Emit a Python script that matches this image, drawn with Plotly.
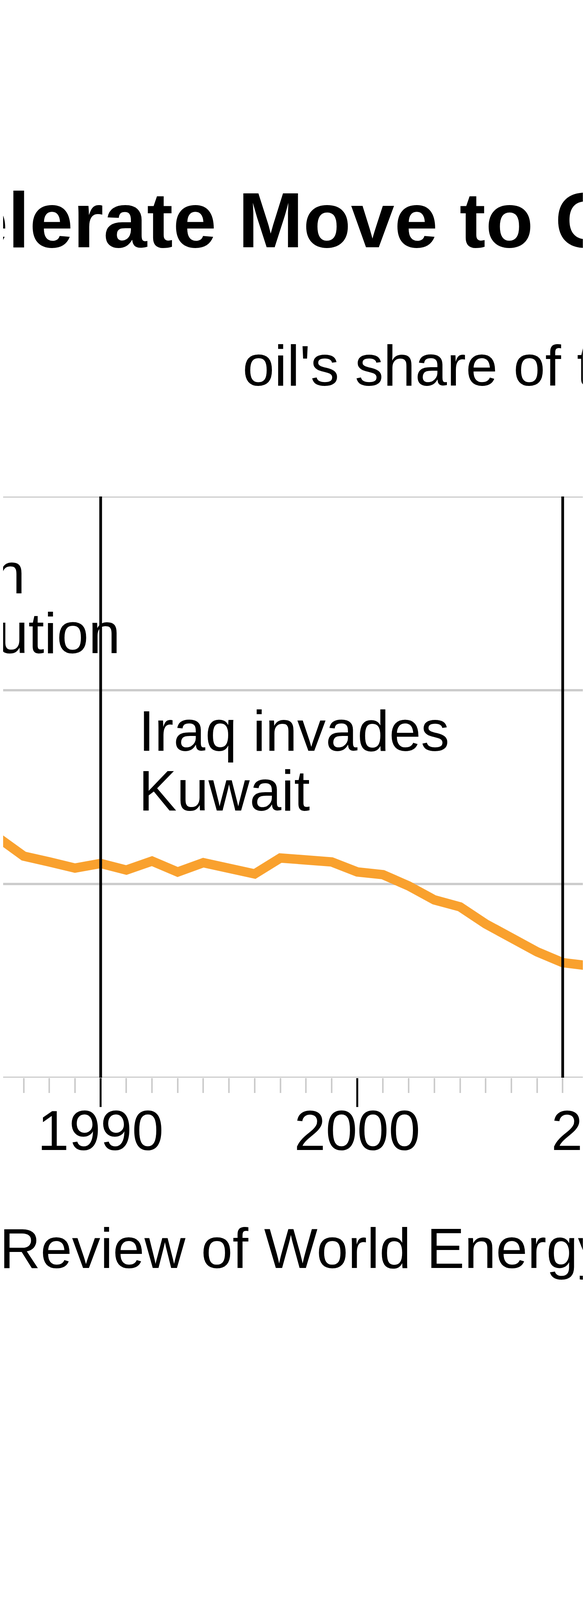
import plotly.graph_objects as go

years = list(range(1986, 2010))
oil_share = [36.2, 35.72, 35.57, 35.41, 35.53, 35.36, 35.59, 35.31, 35.55, 35.43, 35.26, 35.67,
             35.62, 35.57, 35.31, 35.24, 34.95, 34.59, 34.41, 33.97, 33.61, 33.25, 32.97, 32.89]
event_years = [1990, 2008]
major_ticks = [1990, 2000]
tick_labels = ["1990", "2000"]
grid_values = [30, 35, 40, 45]

W, H = 1500, 4204
TOP, BOT = 1263, 2751
FONT = "Liberation Sans, Arial, Helvetica, sans-serif"

def py(p):  # pixel row -> paper y
    return (BOT - p) / (BOT - TOP)

def px(p):
    return p / W

fig = go.Figure()
for g in grid_values:
    fig.add_shape(type="line", xref="paper", x0=0, x1=1, yref="y", y0=g, y1=g,
                  line=dict(color="#cccccc", width=6), layer="below")

fig.add_trace(go.Scatter(x=years, y=oil_share, mode="lines",
                         line=dict(color="#F9A12E", width=24), hoverinfo="skip"))

for yr in event_years:
    fig.add_shape(type="line", x0=yr, x1=yr, xref="x", yref="paper", y0=1, y1=0,
                  line=dict(color="black", width=7))

ann = []
def text(t, x, y, size, bold=False, xref="paper", anchor="left"):
    ann.append(dict(text=f"<b>{t}</b>" if bold else t, x=x, y=y, xref=xref, yref="paper",
                    xanchor=anchor, yanchor="bottom", showarrow=False,
                    font=dict(family=FONT, size=size, color="black"), borderpad=0))

def base(b, s, adj):
    return py(b + 0.21 * s - adj)

text("elerate Move to Green", px(-100), base(650, 200, 24), 200, bold=True)
text("oil's share of total energy", px(612), base(1007, 146, 27), 146)
text("Iranian", px(-391), base(1557, 146, 45), 146)
text("Revolution", px(-391), base(1710, 146, 45), 146)
text("Iraq invades", 1991.46, base(1960, 146, 45), 146, xref="x")
text("Kuwait", 1991.46, base(2113, 146, 45), 146, xref="x")
for v, lab in zip(major_ticks, tick_labels):
    text(lab, v, base(2983, 145, 45), 145, xref="x", anchor="center")
text("2010", px(1564), base(2983, 145, 45), 145, anchor="center")
text("Review of World Energy", px(-10), base(3337, 145, 97), 145)

fig.update_layout(
    width=W, height=H, margin=dict(l=0, r=0, t=TOP, b=H - BOT),
    plot_bgcolor="white", paper_bgcolor="white", showlegend=False,
    annotations=ann,
    xaxis=dict(range=[1986.2, 2009.03], tickmode="array", tickvals=major_ticks, showticklabels=False,
               ticks="outside", ticklen=74, tickwidth=5, tickcolor="black",
               showgrid=False, zeroline=False, showline=False,
               minor=dict(dtick=1, tick0=1986, ticks="outside", ticklen=38, tickwidth=4, tickcolor="#cccccc")),
    yaxis=dict(range=[30, 45], showticklabels=False, showgrid=False, zeroline=False, showline=False),
)
fig.write_html("out.html")
